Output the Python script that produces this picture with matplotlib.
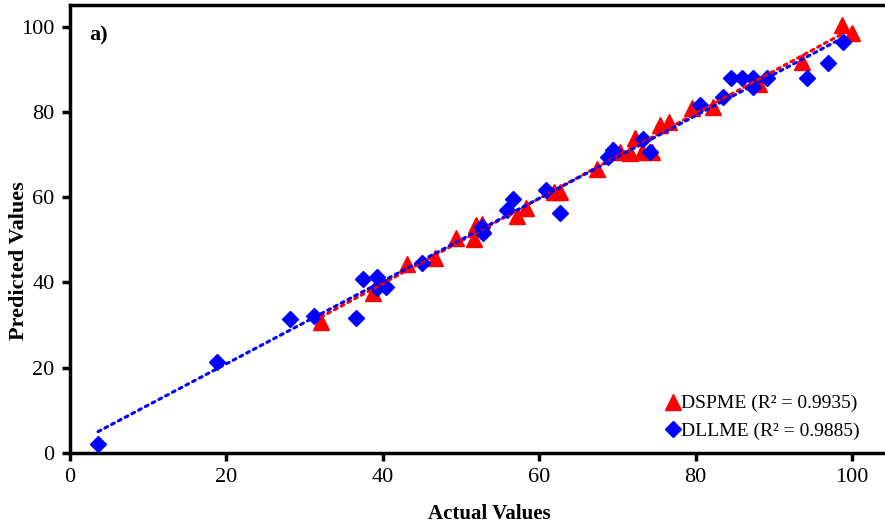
import matplotlib
matplotlib.use('Agg')
import matplotlib.pyplot as plt
from matplotlib.lines import Line2D
import numpy as np

# DSPME (red triangles)
dspme_actual = [32.1, 38.7, 43.1, 46.7, 49.4, 51.7, 51.9, 52.7, 57.2, 58.3,
                61.9, 62.7, 67.4, 69.3, 70.3, 71.6, 72.3, 73.1, 74.4, 75.4,
                76.6, 79.5, 82.2, 88.1, 93.6, 98.7, 100.0]
dspme_pred = [30.8, 37.6, 44.4, 45.8, 50.5, 50.2, 53.5, 53.8, 55.6, 57.5,
              61.3, 61.3, 66.7, 71.1, 70.7, 70.4, 73.9, 70.7, 70.7, 77.0,
              77.7, 81.0, 81.2, 86.6, 91.8, 100.5, 98.6]

# DLLME (blue diamonds)
dllme_actual = [3.6, 18.8, 28.1, 31.2, 36.6, 37.5, 39.3, 39.3, 40.4, 45.0,
                52.7, 52.8, 55.9, 56.7, 60.9, 62.7, 68.8, 69.4, 73.3, 74.2,
                80.6, 83.5, 84.5, 85.9, 87.3, 87.3, 89.1, 94.2, 96.9, 98.8]
dllme_pred = [2.1, 21.4, 31.5, 32.2, 31.7, 40.8, 41.3, 38.7, 39.0, 44.6,
              53.1, 51.6, 57.0, 59.6, 61.7, 56.3, 69.5, 71.1, 73.7, 70.7,
              81.7, 83.6, 88.0, 88.0, 88.0, 85.9, 88.0, 88.0, 91.5, 96.5]

x_ticks = [0, 20, 40, 60, 80, 100]
y_ticks = [0, 20, 40, 60, 80, 100]

plt.rcParams['font.family'] = ['Liberation Serif', 'DejaVu Serif']

fig = plt.figure(figsize=(8.85, 5.26), dpi=100)
ax = fig.add_axes([0.079, 0.139, 0.921, 0.852])

ax.plot(dspme_actual, dspme_pred, linestyle='none', marker='^', ms=11,
        color='#ff0000', mec='#ff0000', zorder=3)
ax.plot(dllme_actual, dllme_pred, linestyle='none', marker='D', ms=8.5,
        color='#0000ff', mec='#0000ff', zorder=4)

# linear trend lines
for xs, ys, col in [(dspme_actual, dspme_pred, '#ff0000'),
                    (dllme_actual, dllme_pred, '#0000ff')]:
    k, b = np.polyfit(xs, ys, 1)
    xx = np.array([min(xs), max(xs)])
    ax.plot(xx, k * xx + b, color=col, lw=2.2, linestyle=(0, (1, 1.5)),
            dash_capstyle='round', zorder=5)

ax.set_xlim(0, 104.2)
ax.set_ylim(0, 105.2)
ax.set_xticks(x_ticks)
ax.set_yticks(y_ticks)
ax.tick_params(labelsize=16, width=2.5, length=6, direction='out', pad=5)
for s in ['left', 'bottom', 'top']:
    ax.spines[s].set_linewidth(2.5)
ax.spines['right'].set_visible(False)

ax.set_xlabel('Actual Values', fontsize=15, fontweight='bold')
ax.xaxis.set_label_coords(0.514, -0.114)
ax.set_ylabel('Predicted Values', fontsize=16, fontweight='bold')
ax.yaxis.set_label_coords(-0.05, 0.43)
ax.text(0.024, 0.92, 'a)', transform=ax.transAxes, fontsize=16,
        fontweight='bold')

handles = [Line2D([], [], linestyle='none', marker='^', ms=11, color='#ff0000'),
           Line2D([], [], linestyle='none', marker='D', ms=8.5, color='#0000ff')]
labels = ['DSPME (R² = 0.9935)', 'DLLME (R² = 0.9885)']
ax.legend(handles, labels, loc='lower right', bbox_to_anchor=(0.99, -0.01),
          frameon=False, fontsize=14, handlelength=0.6, handletextpad=0.1,
          labelspacing=0.5)

fig.savefig('out.png', dpi=100)
